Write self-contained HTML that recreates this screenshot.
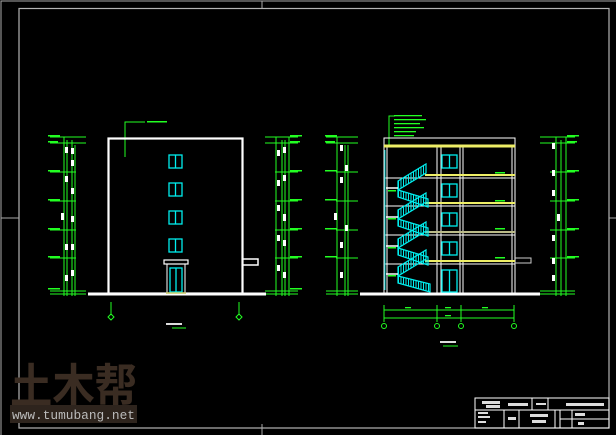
<!DOCTYPE html>
<html><head><meta charset="utf-8"><style>
html,body{margin:0;padding:0;background:#000;}
svg{display:block;}
</style></head><body>
<svg width="616" height="435" viewBox="0 0 616 435" xmlns="http://www.w3.org/2000/svg" font-family="Liberation Sans, Noto Sans CJK SC, sans-serif">
<rect width="616" height="435" fill="#000"/>
<rect x="1" y="1" width="620" height="440" fill="none" stroke="#aaa" stroke-width="1"/>
<rect x="19" y="8.5" width="590" height="419.5" fill="none" stroke="#b4b4b4" stroke-width="1.2"/>
<line x1="262" y1="424" x2="262" y2="435" stroke="#aaa"/>
<line x1="609" y1="218" x2="616" y2="218" stroke="#aaa"/>
<line x1="262" y1="1" x2="262" y2="8" stroke="#aaa"/>
<line x1="1" y1="218" x2="19" y2="218" stroke="#aaa"/>

<g stroke="#2f2" stroke-width="1" fill="none">
<line x1="64" y1="137" x2="64" y2="296"/><line x1="67" y1="140" x2="67" y2="296"/>
<line x1="72" y1="140" x2="72" y2="296"/><line x1="75" y1="145" x2="75" y2="296"/>
<line x1="50" y1="137" x2="86" y2="137"/><line x1="50" y1="143" x2="86" y2="143"/>
<line x1="50" y1="172" x2="76" y2="172"/><line x1="50" y1="201" x2="76" y2="201"/>
<line x1="50" y1="230" x2="76" y2="230"/><line x1="50" y1="258" x2="76" y2="258"/>
<line x1="50" y1="291" x2="86" y2="291"/><line x1="50" y1="294" x2="86" y2="294"/>
<line x1="276" y1="137" x2="276" y2="296"/><line x1="282" y1="140" x2="282" y2="296"/>
<line x1="285" y1="140" x2="285" y2="296"/><line x1="289" y1="137" x2="289" y2="296"/>
<line x1="265" y1="137" x2="298" y2="137"/><line x1="265" y1="143" x2="298" y2="143"/>
<line x1="275" y1="172" x2="298" y2="172"/><line x1="275" y1="201" x2="298" y2="201"/>
<line x1="275" y1="230" x2="298" y2="230"/><line x1="275" y1="258" x2="298" y2="258"/>
<line x1="265" y1="291" x2="298" y2="291"/><line x1="265" y1="294" x2="298" y2="294"/>
<path d="M125 157 V122 H145"/>
<line x1="111" y1="302" x2="111" y2="315"/><line x1="239" y1="302" x2="239" y2="315"/>
<path d="M111 314 l3 3 -3 3 -3 -3z M239 314 l3 3 -3 3 -3 -3z"/>
<line x1="172" y1="328" x2="186" y2="328"/>
</g>
<g fill="#2f2">
<rect x="147" y="121" width="20" height="1.5"/>
<rect x="48" y="135" width="12" height="1.5"/><rect x="48" y="141" width="10" height="1.5"/>
<rect x="48" y="170" width="12" height="1.5"/><rect x="48" y="199" width="12" height="1.5"/>
<rect x="48" y="228" width="12" height="1.5"/><rect x="48" y="256" width="12" height="1.5"/>
<rect x="48" y="288" width="12" height="1.5"/>
<rect x="290" y="135" width="12" height="1.5"/><rect x="290" y="141" width="10" height="1.5"/>
<rect x="290" y="170" width="12" height="1.5"/><rect x="290" y="199" width="12" height="1.5"/>
<rect x="290" y="228" width="12" height="1.5"/><rect x="290" y="256" width="12" height="1.5"/>
<rect x="290" y="288" width="12" height="1.5"/>
</g>
<g fill="#fff">
<rect x="65" y="147" width="3" height="6"/><rect x="71" y="148" width="3" height="6"/>
<rect x="65" y="176" width="3" height="6"/><rect x="71" y="160" width="3" height="6"/>
<rect x="61" y="213" width="3" height="7"/><rect x="71" y="188" width="3" height="6"/>
<rect x="65" y="244" width="3" height="6"/><rect x="71" y="216" width="3" height="6"/>
<rect x="65" y="275" width="3" height="6"/><rect x="71" y="244" width="3" height="6"/>
<rect x="71" y="270" width="3" height="6"/>
<rect x="277" y="150" width="3" height="6"/><rect x="283" y="147" width="3" height="6"/>
<rect x="277" y="180" width="3" height="6"/><rect x="283" y="175" width="3" height="6"/>
<rect x="283" y="214" width="3" height="7"/><rect x="277" y="205" width="3" height="6"/>
<rect x="277" y="235" width="3" height="6"/><rect x="283" y="240" width="3" height="6"/>
<rect x="277" y="265" width="3" height="6"/><rect x="283" y="272" width="3" height="6"/>
<rect x="166" y="323" width="16" height="2" fill="#ddd"/>
</g>
<g stroke="#fff" fill="none">
<rect x="108.5" y="138.5" width="134" height="155" stroke-width="2.2"/>
<line x1="88" y1="294" x2="266" y2="294" stroke-width="3"/>
<path d="M243 259 H258 V265 H243" stroke-width="1.5"/>
<rect x="164" y="260" width="24" height="4" stroke-width="1.2"/>
<path d="M167 264 V293 M185 264 V293" stroke-width="1"/>
</g>
<g stroke="#0ee" fill="none" stroke-width="1.3">
<rect x="169" y="155" width="13" height="13"/><line x1="175.5" y1="155" x2="175.5" y2="168"/>
<rect x="169" y="183" width="13" height="13"/><line x1="175.5" y1="183" x2="175.5" y2="196"/>
<rect x="169" y="211" width="13" height="13"/><line x1="175.5" y1="211" x2="175.5" y2="224"/>
<rect x="169" y="239" width="13" height="13"/><line x1="175.5" y1="239" x2="175.5" y2="252"/>
<rect x="170" y="268" width="12" height="24"/><line x1="176" y1="268" x2="176" y2="292"/>
</g>
<line x1="166" y1="293" x2="186" y2="293" stroke="#cc6" stroke-width="1.5"/>

<g stroke="#2f2" stroke-width="1" fill="none">
<line x1="337" y1="137" x2="337" y2="296"/><line x1="345" y1="145" x2="345" y2="296"/>
<line x1="348" y1="145" x2="348" y2="296"/>
<line x1="326" y1="137" x2="358" y2="137"/><line x1="326" y1="143" x2="358" y2="143"/>
<line x1="336" y1="172" x2="358" y2="172"/><line x1="336" y1="201" x2="358" y2="201"/>
<line x1="336" y1="230" x2="358" y2="230"/><line x1="336" y1="258" x2="358" y2="258"/>
<line x1="326" y1="291" x2="358" y2="291"/><line x1="326" y1="294" x2="358" y2="294"/>
<line x1="556" y1="137" x2="556" y2="296"/><line x1="561" y1="140" x2="561" y2="296"/>
<line x1="566" y1="137" x2="566" y2="296"/>
<line x1="540" y1="137" x2="575" y2="137"/><line x1="540" y1="143" x2="575" y2="143"/>
<line x1="550" y1="172" x2="575" y2="172"/><line x1="550" y1="201" x2="575" y2="201"/>
<line x1="550" y1="230" x2="575" y2="230"/><line x1="550" y1="258" x2="575" y2="258"/>
<line x1="540" y1="291" x2="575" y2="291"/><line x1="540" y1="294" x2="575" y2="294"/>
<path d="M389 145 V116 H395"/>
<line x1="384" y1="310" x2="514" y2="310"/><line x1="384" y1="318" x2="514" y2="318"/>
<line x1="384" y1="305" x2="384" y2="322"/><line x1="437" y1="305" x2="437" y2="322"/>
<line x1="461" y1="305" x2="461" y2="322"/><line x1="514" y1="305" x2="514" y2="322"/>
<circle cx="384" cy="326" r="2.5"/><circle cx="437" cy="326" r="2.5"/>
<circle cx="461" cy="326" r="2.5"/><circle cx="514" cy="326" r="2.5"/>
<line x1="443" y1="346" x2="458" y2="346"/>
</g>
<g fill="#2f2">
<rect x="394" y="115" width="28" height="1.3"/><rect x="394" y="119" width="32" height="1.3"/>
<rect x="394" y="123" width="26" height="1.3"/><rect x="394" y="127" width="30" height="1.3"/>
<rect x="394" y="131" width="22" height="1.3"/><rect x="394" y="135" width="20" height="1.3"/>
<rect x="325" y="135" width="12" height="1.5"/><rect x="325" y="141" width="10" height="1.5"/>
<rect x="325" y="170" width="12" height="1.5"/><rect x="325" y="199" width="12" height="1.5"/>
<rect x="325" y="228" width="12" height="1.5"/><rect x="325" y="256" width="12" height="1.5"/>
<rect x="567" y="135" width="12" height="1.5"/><rect x="567" y="141" width="10" height="1.5"/>
<rect x="567" y="170" width="12" height="1.5"/><rect x="567" y="199" width="12" height="1.5"/>
<rect x="567" y="228" width="12" height="1.5"/><rect x="567" y="256" width="12" height="1.5"/>
<rect x="495" y="172" width="10" height="1.5"/><rect x="495" y="200" width="10" height="1.5"/>
<rect x="495" y="228" width="10" height="1.5"/><rect x="495" y="257" width="10" height="1.5"/>
<rect x="388" y="190" width="8" height="1.5"/><rect x="388" y="218" width="8" height="1.5"/>
<rect x="388" y="247" width="8" height="1.5"/><rect x="388" y="275" width="8" height="1.5"/>
<rect x="405" y="307" width="6" height="1.3"/><rect x="445" y="307" width="6" height="1.3"/><rect x="482" y="307" width="6" height="1.3"/>
<rect x="445" y="315" width="6" height="1.3"/>
</g>
<g fill="#fff">
<rect x="340" y="145" width="3" height="6"/><rect x="340" y="177" width="3" height="6"/>
<rect x="334" y="213" width="3" height="7"/><rect x="340" y="242" width="3" height="6"/>
<rect x="340" y="272" width="3" height="6"/><rect x="345" y="165" width="3" height="6"/>
<rect x="345" y="225" width="3" height="6"/>
<rect x="552" y="143" width="3" height="6"/><rect x="552" y="170" width="3" height="6"/>
<rect x="552" y="190" width="3" height="6"/><rect x="557" y="214" width="3" height="7"/>
<rect x="552" y="235" width="3" height="6"/><rect x="552" y="258" width="3" height="6"/>
<rect x="552" y="275" width="3" height="6"/>
<rect x="440" y="341" width="16" height="2" fill="#ddd"/>
</g>
<g stroke="#fff" fill="none" stroke-width="1">
<rect x="384" y="138" width="131" height="155"/>
<line x1="387" y1="147" x2="387" y2="293"/><line x1="512" y1="147" x2="512" y2="293"/>
<line x1="437" y1="147" x2="437" y2="293"/><line x1="441" y1="147" x2="441" y2="293"/>
<line x1="460" y1="147" x2="460" y2="293"/><line x1="463" y1="147" x2="463" y2="293"/>
<line x1="384" y1="178" x2="515" y2="178"/><line x1="384" y1="206" x2="515" y2="206"/>
<line x1="384" y1="235" x2="515" y2="235"/><line x1="384" y1="264" x2="515" y2="264"/>
<path d="M515 258 H531 V263 H515" stroke="#ccc"/>
<line x1="360" y1="294" x2="540" y2="294" stroke-width="3"/>
</g>
<line x1="385" y1="150" x2="385" y2="290" stroke="#0cc" stroke-width="1"/>
<g stroke="#ee6" stroke-width="2">
<line x1="384" y1="146" x2="515" y2="146" stroke-width="3"/>
<line x1="425" y1="175" x2="515" y2="175"/><line x1="425" y1="203" x2="515" y2="203"/>
<line x1="425" y1="232" x2="515" y2="232" stroke="#bb8"/><line x1="425" y1="261" x2="515" y2="261"/>
</g>
<g stroke="#0ee" fill="none" stroke-width="1.3">
<rect x="442" y="155" width="15" height="13"/><line x1="449.5" y1="155" x2="449.5" y2="168"/>
<rect x="442" y="184" width="15" height="13"/><line x1="449.5" y1="184" x2="449.5" y2="197"/>
<rect x="442" y="213" width="15" height="13"/><line x1="449.5" y1="213" x2="449.5" y2="226"/>
<rect x="442" y="242" width="15" height="13"/><line x1="449.5" y1="242" x2="449.5" y2="255"/>
<rect x="442" y="270" width="15" height="22"/><line x1="449.5" y1="270" x2="449.5" y2="292"/>
</g>
<defs>
<pattern id="h" width="2.5" height="3" patternUnits="userSpaceOnUse"><line x1="1" y1="0" x2="1" y2="3" stroke="#0ee" stroke-width="1"/></pattern>
</defs>
<g stroke="#0ee" stroke-width="1.2" fill="url(#h)">
<polygon points="398,181 426,164 426,173 398,190"/>
<polygon points="398,190 428,199 428,207 398,197"/>
<polygon points="398,210 426,193 426,202 398,219"/>
<polygon points="398,219 428,228 428,236 398,226"/>
<polygon points="398,239 426,222 426,231 398,248"/>
<polygon points="398,248 428,257 428,265 398,255"/>
<polygon points="398,267 426,250 426,259 398,276"/>
<polygon points="398,276 430,284 430,292 398,283"/>
</g>
<g stroke="#fff" stroke-width="1.5">
<line x1="386" y1="188" x2="398" y2="188"/><line x1="386" y1="217" x2="398" y2="217"/>
<line x1="386" y1="246" x2="398" y2="246"/><line x1="386" y1="274" x2="398" y2="274"/>
</g>

<text x="10" y="403" font-size="47" font-weight="bold" fill="#3a2c22" font-family="Noto Sans CJK SC, sans-serif" textLength="127" lengthAdjust="spacingAndGlyphs">土木帮</text>
<rect x="10" y="405" width="127" height="18" fill="#2e241d"/>
<text x="12" y="419" font-size="13" fill="#bbb" font-family="Liberation Mono, monospace" textLength="123" lengthAdjust="spacingAndGlyphs">www.tumubang.net</text>

<g stroke="#fff" fill="none" stroke-width="1">
<rect x="475" y="398" width="134" height="30"/>
<line x1="475" y1="410" x2="609" y2="410"/>
<line x1="504" y1="410" x2="504" y2="428"/><line x1="519" y1="410" x2="519" y2="428"/>
<line x1="532" y1="398" x2="532" y2="410"/><line x1="548" y1="398" x2="548" y2="410"/>
<line x1="555" y1="410" x2="555" y2="428"/><line x1="560" y1="410" x2="560" y2="428"/>
<line x1="572" y1="410" x2="572" y2="428"/>
<line x1="560" y1="419" x2="609" y2="419"/>
</g>
<g fill="#ddd">
<rect x="482" y="401" width="18" height="3"/><rect x="486" y="405" width="14" height="3"/><rect x="508" y="403" width="20" height="3"/>
<rect x="536" y="403" width="10" height="2"/><rect x="566" y="403" width="38" height="3"/>
<rect x="478" y="412" width="10" height="2"/><rect x="478" y="416" width="12" height="2"/><rect x="478" y="421" width="8" height="2"/>
<rect x="508" y="417" width="8" height="3"/>
<rect x="530" y="414" width="18" height="3"/><rect x="532" y="420" width="14" height="3"/>
<rect x="575" y="413" width="10" height="3"/><rect x="578" y="422" width="6" height="3"/>
</g>
</svg>
</body></html>
